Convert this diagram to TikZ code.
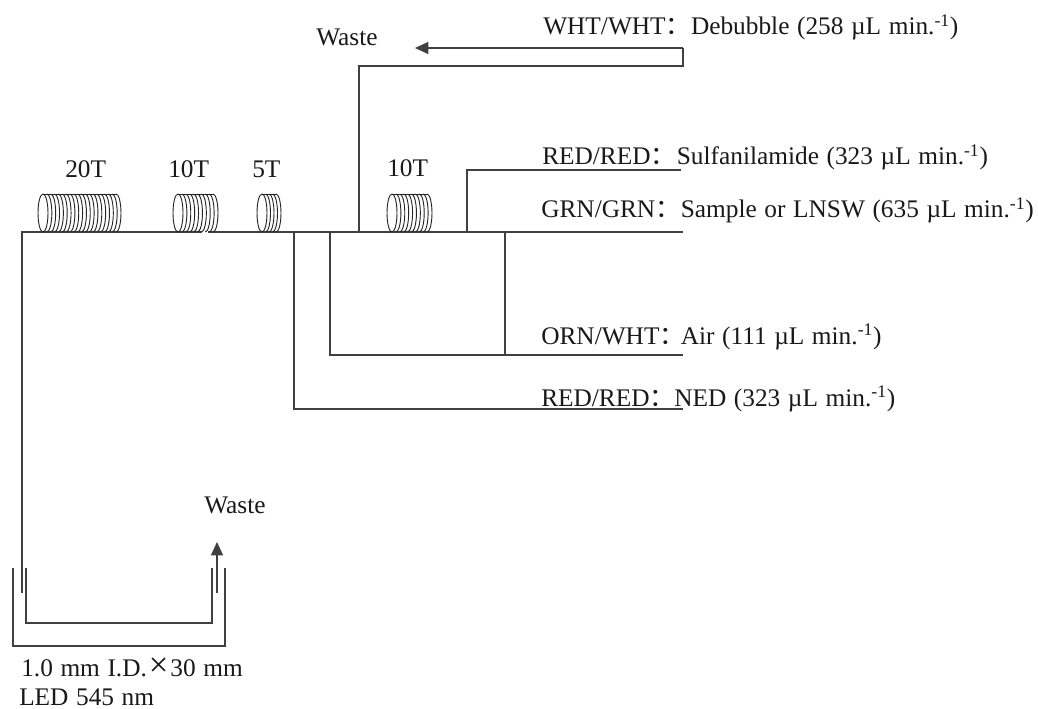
\documentclass[tikz,border=0pt]{standalone}
\usepackage{fontspec}
\setmainfont[WordSpace=1.2]{Liberation Serif}
\newfontfamily\cjkf{Noto Sans CJK SC}
\usetikzlibrary{arrows.meta}
\tikzset{
  pipe/.style={draw=black!75,line width=0.9pt},
  coilring/.style={draw=black!85,line width=0.7pt},
  lab/.style={inner sep=0pt,anchor=base west,font=\fontsize{19}{22}\selectfont,text=black!90},
  tip/.style={-{Triangle[length=10pt,width=9pt]},shorten >=0pt}
}
\newcommand{\fc}[1]{\makebox[#1pt][l]{\cjkf：}}
\newcommand{\sv}[1]{\textsuperscript{#1}}
\newcommand{\coil}[3]{% x start, x end, count
  \pgfmathsetmacro{\st}{(#2-#1-10)/(#3-1)}
  \draw[coilring] (#1+5,194) arc [start angle=90,end angle=270,x radius=5,y radius=-19];
  \foreach \i in {1,...,#3}{
    \pgfmathsetmacro{\cx}{#1+5+(\i-1)*\st}
    \draw[coilring] (\cx,194) arc [start angle=90,end angle=-90,x radius=5,y radius=-19];
  }
  \draw[coilring] (#1+5,194) -- (#2-5,194);
}
\begin{document}
\begin{tikzpicture}[x=0.75pt,y=-0.75pt]
\useasboundingbox (0,0) rectangle (1038,709);
% junction coordinates
\coordinate (mainL) at (22,232);
\coordinate (gapL) at (202,232);
\coordinate (gapR) at (208,232);
\coordinate (mainR) at (683,232);
\coordinate (cellInL) at (22,593);
\coordinate (j5) at (294,232);
\coordinate (j6) at (330,232);
\coordinate (j7) at (359,232);
\coordinate (j8) at (467,232);
\coordinate (j9) at (505,232);
\coordinate (ned) at (683,409);
\coordinate (air) at (683,355);
\coordinate (sulf) at (681,170);
\coordinate (deb1) at (683,66);
\coordinate (deb2) at (683,48);
\coordinate (wasteTip) at (415,48);
\coordinate (wasteUp) at (217,542);
% main
\draw[pipe] (cellInL) -- (mainL) -- (gapL);
\draw[pipe] (gapR) -- (mainR);
\draw[pipe] (j5) |- (ned);
\draw[pipe] (j6) |- (505,355) -- (j9);
\draw[pipe] (505,355) -- (air);
\draw[pipe] (j7) |- (deb1) -- (deb2);
\draw[pipe,tip] (deb2) -- (wasteTip);
\draw[pipe] (j8) |- (sulf);
% flow cell
\draw[pipe] (13,568) |- (225,646) -- (225,568);
\draw[pipe] (26,568) |- (212,623) -- (212,568);
\draw[pipe,tip] (217,593) -- (wasteUp);
% coils
\coil{38}{121}{20}
\coil{173}{218}{10}
\coil{257}{281}{5}
\coil{387}{432}{10}
% labels
\node[lab] (t20) at (65,178) {20T};
\node[lab] (t10a) at (168,178) {10T};
\node[lab] (t5) at (252,178) {5T};
\node[lab] (t10b) at (387,177) {10T};
\node[lab] (w1) at (316,46) {Waste};
\node[lab] (w2) at (204,513) {Waste};
\node[lab] (l1) at (543,35) {WHT/WHT\fc{19}Debubble (258 µL min.\sv{-1})};
\node[lab] (l2) at (542,165) {RED/RED\fc{19.7}Sulfanilamide (323 µL min.\sv{-1})};
\node[lab] (l3) at (541,218) {GRN/GRN\fc{19.2}Sample or LNSW (635 µL min.\sv{-1})};
\node[lab] (l4) at (541,344) {ORN/WHT\fc{16}Air (111 µL min.\sv{-1})};
\node[lab] (l5) at (541,406) {RED/RED\fc{18.5}NED (323 µL min.\sv{-1})};
\node[lab] (c1) at (21,676) {1.0 mm I.D.\hspace{1.5pt}{\fontsize{26}{26}\selectfont ×}\hspace{1.5pt}30 mm};
\node[lab] (c2) at (19,705) {LED 545 nm};
\end{tikzpicture}
\end{document}
